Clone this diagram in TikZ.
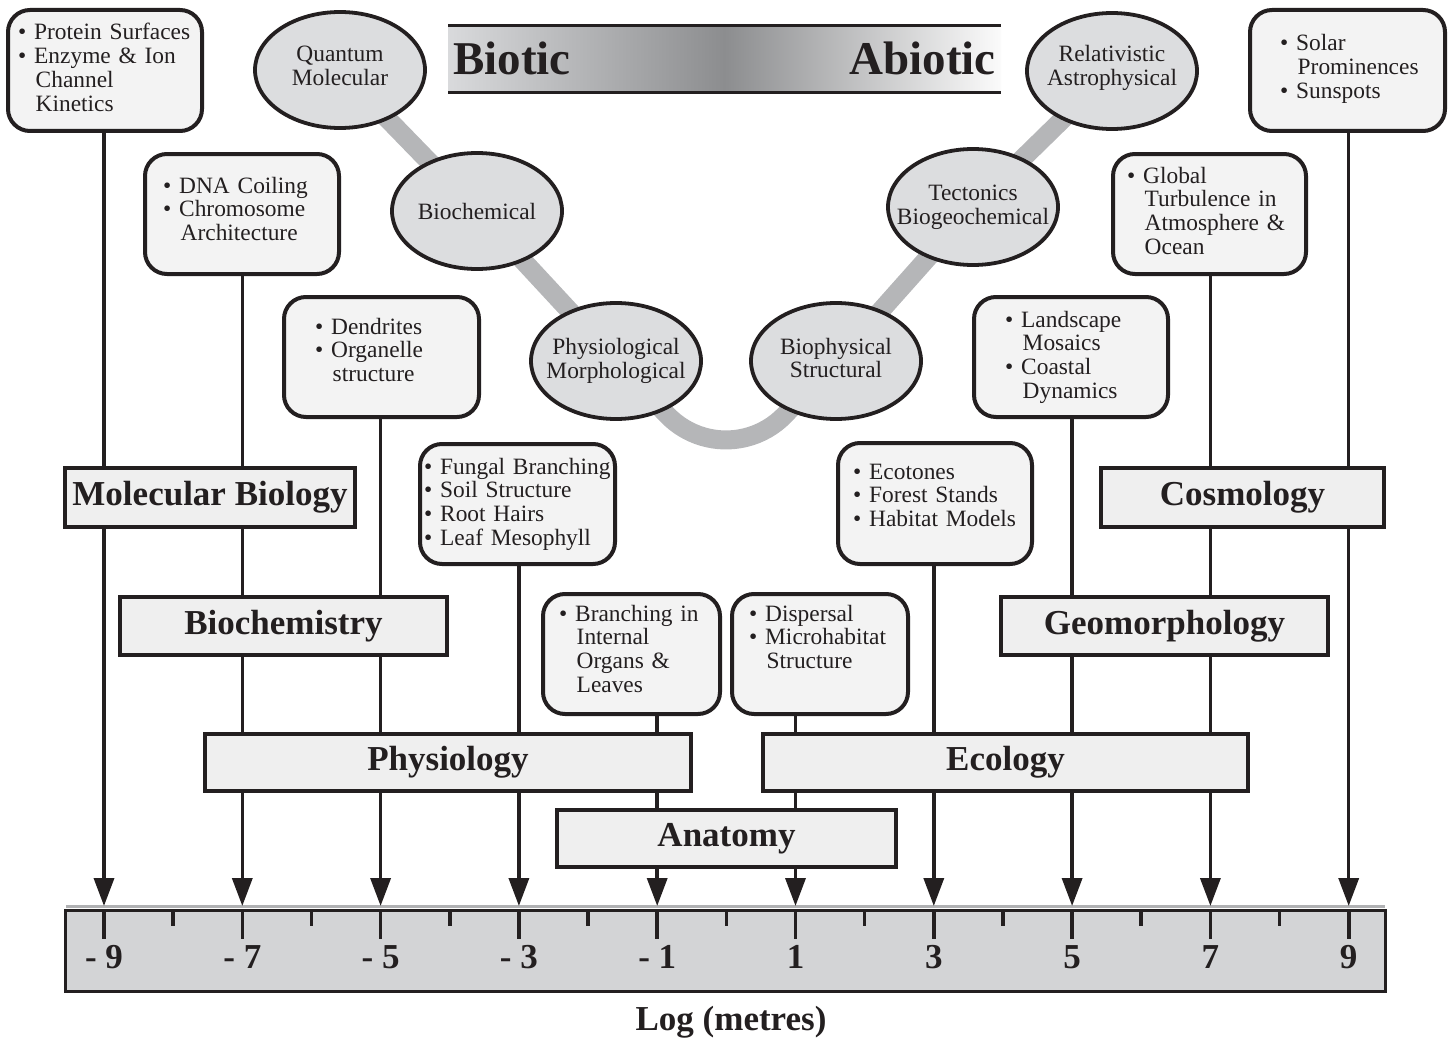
\documentclass[tikz,border=0pt]{standalone}
\usepackage{fontspec}
\setmainfont{Liberation Serif}
\usetikzlibrary{shapes.geometric,arrows.meta}
\definecolor{ink}{HTML}{231F20}
\definecolor{boxfill}{HTML}{F3F3F3}
\definecolor{discfill}{HTML}{EFEFEF}
\definecolor{ellfill}{HTML}{DCDDDF}
\definecolor{bandc}{HTML}{B5B6B8}
\definecolor{rulerfill}{HTML}{D3D4D6}
\definecolor{shadowc}{HTML}{B0B1B3}
\definecolor{bannerL}{HTML}{D9DADC}
\definecolor{bannerM}{HTML}{8C8D8F}
\definecolor{bannerR}{HTML}{FBFBFB}
\newcommand\infofont{\fontsize{23.4}{23.8}\selectfont}
\newcommand\discfont{\fontsize{35}{40}\selectfont\bfseries}
\newcommand\bannerfont{\fontsize{47}{52}\selectfont\bfseries}
\newcommand\ctab{\hspace*{17.5pt}}
\begin{document}
\begin{tikzpicture}[x=1pt,y=-1pt,
  infobox/.style={draw=ink, line width=4pt, fill=boxfill, rounded corners=22pt, inner sep=0pt},
  infotext/.style={font=\infofont, align=left, text width=210pt, anchor=base west, inner sep=0pt, text=ink},
  ell/.style={ellipse, draw=ink, line width=3.8pt, fill=ellfill, minimum width=170, minimum height=116, inner sep=0pt},
  elltext/.style={align=center, font=\infofont, text=ink, inner sep=0pt},
  disc/.style={draw=ink, line width=4pt, fill=discfill, inner sep=0pt, font=\discfont, text=ink},
  band/.style={draw=bandc, line width=19pt},
  arrowline/.style={draw=ink, line width=3.5pt, -{Triangle[length=28pt,width=20pt]}},
  rulerbox/.style={draw=ink, line width=3pt, fill=rulerfill, inner sep=0pt},
  majortick/.style={draw=ink, line width=3.6pt},
  minortick/.style={draw=ink, line width=3.6pt},
  ticklabel/.style={font=\discfont, anchor=base, inner sep=0pt, text=ink},
  bannertext/.style={font=\bannerfont, inner sep=0pt, text=ink},
  bannerline/.style={draw=ink, line width=3pt}
]
\useasboundingbox (0,0) rectangle (1450,1038);

% banner
\shade[left color=bannerL, right color=bannerR, middle color=bannerM] (448,27) rectangle (1001,92);
\draw[bannerline] (448,25.5) -- (1001,25.5);
\draw[bannerline] (448,93) -- (1001,93);
\node[bannertext, anchor=base west] (biotic) at (453,75) {Biotic};
\node[bannertext, anchor=base east] (abiotic) at (996,75) {Abiotic};

% ellipses (positions) and band
\coordinate (cqm) at (340,70);
\coordinate (cbc) at (477,211);
\coordinate (cpm) at (616,361);
\coordinate (cbs) at (836,361);
\coordinate (ctb) at (973,207);
\coordinate (cra) at (1112,71);
\draw[band] (cqm) -- (cbc) -- (cpm) -- (666.7,414.5)
  arc[start angle=136.5, end angle=43.5, radius=81.7] -- (cbs) -- (ctb) -- (cra);
\node[ell] (qm) at (cqm) {};
\node[ell] (bc) at (cbc) {};
\node[ell] (pm) at (cpm) {};
\node[ell] (bs) at (cbs) {};
\node[ell] (tb) at (ctb) {};
\node[ell] (ra) at (cra) {};
\node[elltext] (qmt) at ([yshift=4pt]qm.center) {Quantum\\Molecular};
\node[elltext] (bct) at (bc.center) {Biochemical};
\node[elltext] (pmt) at (pm.center) {Physiological\\Morphological};
\node[elltext] (bst) at ([yshift=3pt]bs.center) {Biophysical\\Structural};
\node[elltext] (tbt) at (tb.center) {Tectonics\\Biogeochemical};
\node[elltext] (rat) at ([yshift=3pt]ra.center) {Relativistic\\Astrophysical};

% ruler
\draw[draw=shadowc, line width=3pt] (66,906.5) -- (1385,906.5);
\node[rulerbox, minimum width=1320, minimum height=81] (ruler) at (725,951) {};
\foreach \i in {0,...,9} \coordinate (t\i) at ({104+138.3*\i},906);

% info boxes
\node[infobox, minimum width=194, minimum height=121] (b1) at (105,70.5) {};
\node[infobox, minimum width=194, minimum height=120] (b2) at (242,214) {};
\node[infobox, minimum width=195, minimum height=120] (b3) at (381.5,357) {};
\node[infobox, minimum width=195, minimum height=120] (b4) at (517.5,504) {};
\node[infobox, minimum width=177, minimum height=120] (b5) at (631.5,654) {};
\node[infobox, minimum width=176, minimum height=120] (b6) at (820,654) {};
\node[infobox, minimum width=194, minimum height=121] (b7) at (935,503.5) {};
\node[infobox, minimum width=194, minimum height=120] (b8) at (1071,357) {};
\node[infobox, minimum width=193, minimum height=120] (b9) at (1209.5,214) {};
\node[infobox, minimum width=195, minimum height=121] (b10) at (1347.5,70.5) {};

\node[infotext] (b1t) at (18,40) {• Protein Surfaces\\• Enzyme \& Ion\\\ctab Channel\\\ctab Kinetics};
\node[infotext] (b2t) at (163,193) {• DNA Coiling\\• Chromosome\\\ctab Architecture};
\node[infotext] (b3t) at (315,334) {• Dendrites\\• Organelle\\\ctab structure};
\node[infotext] (b4t) at (424,474) {• Fungal Branching\\• Soil Structure\\• Root Hairs\\• Leaf Mesophyll};
\node[infotext] (b5t) at (559,621) {• Branching in\\\ctab Internal\\\ctab Organs \&\\\ctab Leaves};
\node[infotext] (b6t) at (749,621) {• Dispersal\\• Microhabitat\\\ctab Structure};
\node[infotext] (b7t) at (853,479) {• Ecotones\\• Forest Stands\\• Habitat Models};
\node[infotext] (b8t) at (1005,327) {• Landscape\\\ctab Mosaics\\• Coastal\\\ctab Dynamics};
\node[infotext] (b9t) at (1127,183) {• Global\\\ctab Turbulence in\\\ctab Atmosphere \&\\\ctab Ocean};
\node[infotext] (b10t) at (1280,51) {• Solar\\\ctab Prominences\\• Sunspots};

% connectors
\foreach \b/\t in {b1/t0,b2/t1,b3/t2,b4/t3,b5/t4,b6/t5,b7/t6,b8/t7,b9/t8,b10/t9}
  \draw[arrowline] (\b.south -| \t) -- (\t);

% disciplines
\node[disc, minimum width=290, minimum height=59] (molbio) at (210,497.5) {Molecular Biology};
\node[disc, minimum width=327, minimum height=58] (biochem) at (283.5,626) {Biochemistry};
\node[disc, minimum width=486, minimum height=57] (physio) at (448,762) {Physiology};
\node[disc, minimum width=339, minimum height=57] (anat) at (726.5,838.5) {Anatomy};
\node[disc, minimum width=485, minimum height=57] (eco) at (1005.5,762) {Ecology};
\node[disc, minimum width=327, minimum height=58] (geo) at (1164.5,626) {Geomorphology};
\node[disc, minimum width=283, minimum height=59] (cosmo) at (1242.5,497.5) {Cosmology};

% ticks and labels
\foreach \i in {0,...,9} \draw[majortick] ({104+138.3*\i},910.5) -- ++(0,28);
\foreach \i in {0,...,8} \draw[minortick] ({104+138.3*\i+69.15},910.5) -- ++(0,15);
\foreach \i/\l in {0/- 9,1/- 7,2/- 5,3/- 3,4/- 1,5/1,6/3,7/5,8/7,9/9}
  \node[ticklabel] (lab\i) at ({104+138.3*\i},968) {\l};
\node[ticklabel] (logm) at (731,1030.5) {Log (metres)};
\end{tikzpicture}
\end{document}
